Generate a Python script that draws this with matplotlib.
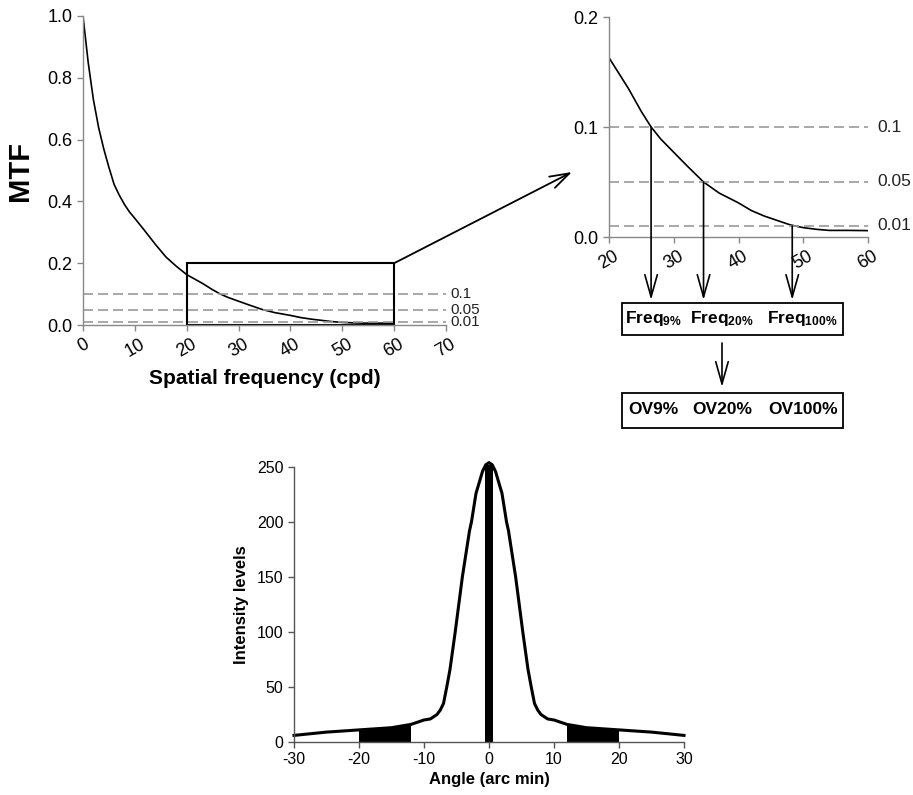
import matplotlib
matplotlib.use("Agg")
import matplotlib.pyplot as plt
from matplotlib.patches import Rectangle, FancyArrowPatch
import numpy as np

plt.rcParams['font.family'] = ['Liberation Sans', 'DejaVu Sans']
plt.rcParams['mathtext.fontset'] = 'custom'
plt.rcParams['mathtext.rm'] = 'Liberation Sans'
plt.rcParams['mathtext.bf'] = 'Liberation Sans:bold'
plt.rcParams['axes.unicode_minus'] = False

# MTF curve (spatial frequency in cpd)
freq = [0, 1, 2, 3, 4, 5, 6, 7, 8, 9, 10, 12, 14, 16, 18, 20, 23, 25, 26.5, 28,
        30, 32, 34.6, 37, 40, 42, 44, 46, 48, 50, 52, 54, 57, 60]
mtf = [1.0, 0.85, 0.73, 0.64, 0.57, 0.51, 0.455, 0.42, 0.39, 0.365, 0.345, 0.303,
       0.26, 0.22, 0.19, 0.163, 0.135, 0.114, 0.100, 0.089, 0.077, 0.065, 0.050,
       0.040, 0.031, 0.024, 0.019, 0.015, 0.011, 0.0085, 0.007, 0.006, 0.006, 0.0058]
thresholds = [0.1, 0.05, 0.01]
threshold_labels = ['0.1', '0.05', '0.01']
cross_freq = [26.5, 34.6, 48.3]
freq_labels = [r'$\mathbf{Freq_{9\%}}$', r'$\mathbf{Freq_{20\%}}$', r'$\mathbf{Freq_{100\%}}$']
ov_labels = ['OV9%', 'OV20%', 'OV100%']

# Line spread profile (angle in arc min)
angle = [-30, -25, -20, -15, -12, -10, -9, -8, -7.5, -7, -6.5, -6, -5.2, -4.1, -3,
         -2.7, -2, -1, -0.5, 0, 0.5, 1, 2, 2.7, 3, 4.1, 5.2, 6, 6.5, 7, 7.5, 8, 9,
         10, 12, 15, 20, 25, 30]
intensity = [6, 9, 11, 13, 16, 20, 21, 25, 29, 35, 50, 66, 100, 150, 192,
             200, 226, 246, 252, 254, 252, 246, 226, 200, 192, 150, 100, 66, 50,
             35, 29, 25, 21, 20, 16, 13, 11, 9, 6]

GREY = '#888888'
W, H = 913, 795
fig = plt.figure(figsize=(9.13, 7.95), dpi=100)


def frac(px, py):
    return px / W, 1 - py / H


def style_axes(ax):
    for s in ['top', 'right']:
        ax.spines[s].set_visible(False)
    for s in ['left', 'bottom']:
        ax.spines[s].set_color(GREY)
        ax.spines[s].set_linewidth(1.0)
    ax.tick_params(direction='out', length=4, color=GREY, width=1.0)


# ---- main MTF plot
ax1 = fig.add_axes([83 / W, 1 - 325 / H, 363 / W, 309 / H])
style_axes(ax1)
ax1.plot(freq, mtf, color='black', lw=1.2)
for t in thresholds:
    ax1.plot([0, 70], [t, t], color='#999999', lw=1.2, dashes=(6, 3))
for t, lab in zip(thresholds, threshold_labels):
    ax1.text(70.8, t, lab, fontsize=11, va='center', color='#222222')
ax1.add_patch(Rectangle((20, 0), 40, 0.2, fill=False, edgecolor='black', lw=1.5, clip_on=False))
ax1.set_xlim(0, 70)
ax1.set_ylim(0, 1.0)
ax1.set_xticks(range(0, 71, 10))
ax1.set_yticks(np.arange(0, 1.01, 0.2))
ax1.set_yticklabels(['%.1f' % v for v in np.arange(0, 1.01, 0.2)], fontsize=13)
ax1.set_xticklabels([str(v) for v in range(0, 71, 10)], fontsize=13, rotation=30)
ax1.set_xlabel('Spatial frequency (cpd)', fontsize=15, fontweight='bold', labelpad=6)
ax1.set_ylabel('MTF', fontsize=21, fontweight='bold', labelpad=10)

# zoom arrow
ax1.annotate('', xy=frac(572, 172), xycoords='figure fraction', xytext=(60, 0.2),
             textcoords='data', annotation_clip=False,
             arrowprops=dict(arrowstyle='->,head_length=1.4,head_width=0.45',
                             color='black', lw=1.3, mutation_scale=10, shrinkA=0, shrinkB=0))

# ---- inset
ax2 = fig.add_axes([609 / W, 1 - 237 / H, 259 / W, 220 / H])
style_axes(ax2)
ax2.plot(freq[15:], mtf[15:], color='black', lw=1.2)
for t, lab in zip(thresholds, threshold_labels):
    ax2.plot([20, 60], [t, t], color='#999999', lw=1.2, dashes=(6, 3))
    ax2.text(61.5, t, lab, fontsize=12.5, va='center', color='#222222')
ax2.set_xlim(20, 60)
ax2.set_ylim(0, 0.2)
ax2.set_xticks(range(20, 61, 10))
ax2.set_yticks([0, 0.1, 0.2])
ax2.set_yticklabels(['0.0', '0.1', '0.2'], fontsize=13)
ax2.set_xticklabels([str(v) for v in range(20, 61, 10)], fontsize=13, rotation=30)

arrow_down = dict(arrowstyle='->,head_length=1.6,head_width=0.45', color='black',
                  lw=1.2, mutation_scale=10, shrinkA=0, shrinkB=0)
for cf, t in zip(cross_freq, thresholds):
    x_pix = ax2.transData.transform((cf, t))[0]
    ax2.annotate('', xy=(x_pix / W, 1 - 300 / H), xycoords='figure fraction',
                 xytext=(cf, t), textcoords='data', annotation_clip=False,
                 arrowprops=arrow_down)

# boxes
fig.patches.append(Rectangle(frac(622, 335), 221 / W, 32 / H, transform=fig.transFigure,
                             fill=False, edgecolor='black', lw=1.3))
fig.patches.append(Rectangle(frac(622, 428), 221 / W, 35 / H, transform=fig.transFigure,
                             fill=False, edgecolor='black', lw=1.3))
for px, lab in zip([653, 722, 802], freq_labels):
    fig.text(*frac(px, 319), lab, fontsize=12.5, ha='center', va='center')
for px, lab in zip([653, 722, 803], ov_labels):
    fig.text(*frac(px, 410), lab, fontsize=12.5, fontweight='bold', ha='center', va='center')
fig.add_artist(FancyArrowPatch(frac(722, 343), frac(722, 387),
               transform=fig.transFigure, arrowstyle='->,head_length=1.6,head_width=0.45',
               mutation_scale=10, color='black', lw=1.2, shrinkA=0, shrinkB=0))

# ---- line spread plot
ax3 = fig.add_axes([294 / W, 1 - 742 / H, 390 / W, 275 / H])
style_axes(ax3)
ax3.spines['left'].set_color('#555555')
ax3.spines['bottom'].set_color('#555555')
ax3.tick_params(color='#555555')
a = np.array(angle)
v = np.array(intensity)
ax3.fill_between(a, v, where=(np.abs(a) >= 12) & (np.abs(a) <= 20), color='black', lw=0)
ax3.bar(0, 252, width=1.1, color='black', clip_on=False)
ax3.plot(angle, intensity, color='black', lw=2.2, clip_on=False)
ax3.set_xlim(-30, 30)
ax3.set_ylim(0, 250)
ax3.set_xticks(range(-30, 31, 10))
ax3.set_yticks(range(0, 251, 50))
ax3.tick_params(labelsize=11.5)
ax3.set_xlabel('Angle (arc min)', fontsize=12, fontweight='bold', labelpad=3)
ax3.set_ylabel('Intensity levels', fontsize=12, fontweight='bold', labelpad=6)

fig.savefig('out.png', dpi=100)
